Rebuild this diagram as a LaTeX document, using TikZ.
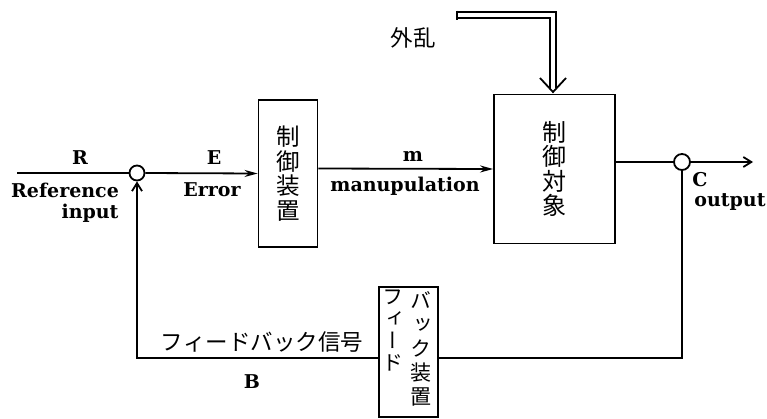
\documentclass[tikz,border=0pt]{standalone}
\usepackage{fontspec}
\setmainfont{DejaVu Serif}
\newfontfamily\cjk{Noto Sans CJK JP}
\newfontfamily\cjkv[RawFeature=+vert]{Noto Sans CJK JP}
\usetikzlibrary{arrows.meta}
\tikzset{
  box/.style={draw, line width=1.8pt, inner sep=0pt},
  sumpt/.style={circle, draw, line width=1.8pt, minimum size=15pt, inner sep=0pt},
  lbl/.style={font=\bfseries\fontsize{19}{19}\selectfont, inner sep=0pt},
  jlbl/.style={font=\cjk\fontsize{22.5}{22.5}\selectfont, inner sep=0pt},
  vtext/.style={font=\cjkv\fontsize{23.5}{24.5}\selectfont, align=center, inner sep=0pt},
  ln/.style={line width=1.8pt},
  arrS/.style={-{Stealth[length=13pt,width=7pt]}},
  arrB/.style={-{Straight Barb[length=8pt,width=10pt]}}
}
\begin{document}
\begin{tikzpicture}[x=1pt,y=-1pt]
\useasboundingbox (0,0) rectangle (767,418);
% blocks
\node[box, vtext, minimum width=59pt, minimum height=147pt] (box1) at (288,173.5) {制\\御\\装\\置};
\node[box, vtext, font=\cjkv\fontsize{24}{24.5}\selectfont, minimum width=121pt, minimum height=149pt] (box2) at (554.5,169) {制\\御\\対\\象};
\node[box, minimum width=59pt, minimum height=130pt] (box3) at (408.5,352) {};
\node[vtext, font=\cjkv\fontsize{21}{22}\selectfont, anchor=north] (fb1) at (393,290) {フ\\ィ\\ー\\ド};
\node[vtext, font=\cjkv\fontsize{21}{24}\selectfont, anchor=north] (fb2) at (421,291) {バ\\ッ\\ク\\装\\置};
% summing points
\node[sumpt] (c1) at (137,173) {};
\node[sumpt, minimum size=16pt] (c2) at (682,162) {};
% connectors
\coordinate (rin) at (17,173);
\coordinate (cout) at (753,162);
\draw[ln] (rin) -- (c1.west);
\draw[ln, arrS] (c1.east) -- (box1.west);
\draw[ln, arrS] ([yshift=5pt]box1.east) -- (box2.west);
\draw[ln] ([yshift=7pt]box2.east) -- (c2.west);
\draw[ln, arrB] (c2.east) -- (cout);
\draw[ln] (c2.south) |- ([yshift=-6pt]box3.east);
\draw[ln, arrB] ([yshift=-6pt]box3.west) -| (c1.south);
% disturbance
\coordinate (d0) at (457,15);
\coordinate (d1) at (553,15);
\coordinate (d2) at (553,88);
\coordinate (vl) at (540,78);
\coordinate (vt) at (553,92);
\coordinate (vr) at (566,78);
\draw[line width=1.7pt, double, double distance=4pt] (d0) -- (d1) -- (d2);
\draw[line width=1.7pt] ([yshift=4.5pt]d0) -- ([yshift=-4.5pt]d0);
\draw[line width=1.8pt] (vl) -- (vt) -- (vr);
% labels
\node[lbl] (lR) at (80,158) {R};
\node[lbl] (lRef) at (65,190) {Reference};
\node[lbl] (lin) at (90,213) {input};
\node[lbl] (lE) at (214,158) {E};
\node[lbl] (lErr) at (212,190) {Error};
\node[lbl] (lm) at (413,156) {m};
\node[lbl] (lman) at (405,186) {manupulation};
\node[lbl] (lC) at (700,180) {C};
\node[lbl] (lout) at (730,202) {output};
\node[lbl] (lB) at (252,382) {B};
\node[jlbl] (ldist) at (413,38) {外乱};
\node[jlbl] (lfb) at (262,342) {フィードバック信号};
\end{tikzpicture}
\end{document}
